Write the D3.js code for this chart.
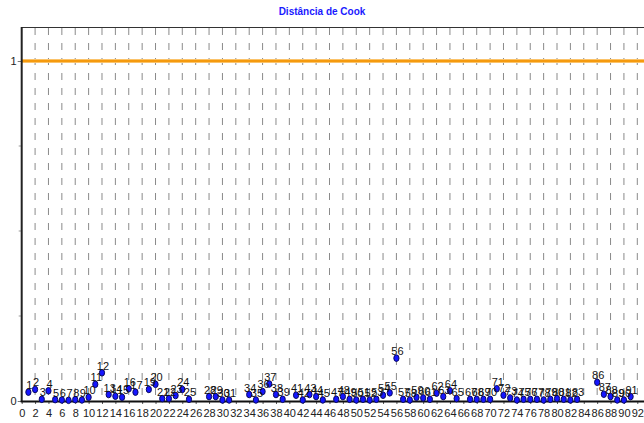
<!DOCTYPE html>
<html><head><meta charset="utf-8">
<script src="https://cdn.jsdelivr.net/npm/d3@7"></script>
<style>body{margin:0;background:#fff}svg{display:block}text{font-family:"Liberation Sans",Arial,sans-serif}</style>
</head><body>
<script>
const title = "Distância de Cook";
const obs = [1,2,3,4,5,6,7,8,9,10,11,12,13,14,15,16,17,19,20,21,22,23,24,25,28,29,30,31,34,35,36,37,38,39,41,42,43,44,45,47,48,49,50,51,52,53,54,55,56,57,58,59,60,61,62,63,64,65,67,68,69,70,71,72,73,74,75,76,77,78,79,80,81,82,83,86,87,88,89,90,91];
const cook = [0.026,0.034,0.005,0.030,0.004,0.003,0.002,0.004,0.003,0.011,0.049,0.083,0.019,0.014,0.011,0.036,0.026,0.034,0.049,0.007,0.007,0.016,0.034,0.005,0.013,0.013,0.003,0.003,0.019,0.003,0.028,0.050,0.019,0.005,0.017,0.003,0.019,0.013,0.003,0.005,0.013,0.005,0.003,0.005,0.003,0.005,0.017,0.024,0.126,0.005,0.003,0.011,0.009,0.005,0.023,0.013,0.030,0.007,0.005,0.005,0.005,0.005,0.036,0.017,0.009,0.003,0.005,0.005,0.005,0.003,0.005,0.007,0.005,0.003,0.005,0.055,0.020,0.013,0.003,0.003,0.013];
const xTicks = d3.range(0, 93, 2);
const yLabelTicks = [0, 1];
const yMinorTicks = [0.25, 0.5, 0.75];
const threshold = 1;

const W = 644, H = 423;
const svg = d3.select("body").append("svg").attr("width", W).attr("height", H);
const x = d3.scaleLinear().domain([0, 93]).range([21.7, 644]);
const y = d3.scaleLinear().domain([0, 1.1]).range([401, 27]);

svg.append("text").attr("x", 322).attr("y", 15).attr("text-anchor", "middle")
  .attr("font-size", 10).attr("font-weight", "bold").attr("fill", "#1a1aff").text(title);

// dashed vertical grid
svg.append("g").selectAll("line").data(xTicks.filter(d => d > 0)).join("line")
  .attr("x1", d => x(d)).attr("x2", d => x(d)).attr("y1", 28).attr("y2", 400)
  .attr("stroke", "#8a8a8a").attr("stroke-width", 1).attr("stroke-dasharray", "7,8");

// top border
svg.append("line").attr("x1", x(0)).attr("x2", W).attr("y1", 27.5).attr("y2", 27.5)
  .attr("stroke", "#333").attr("stroke-width", 1);

// threshold line
svg.append("line").attr("x1", x(0)).attr("x2", W).attr("y1", y(threshold)).attr("y2", y(threshold))
  .attr("stroke", "#fbc36a").attr("stroke-width", 4);
svg.append("line").attr("x1", x(0)).attr("x2", W).attr("y1", y(threshold)).attr("y2", y(threshold))
  .attr("stroke", "#f59a0e").attr("stroke-width", 2);

// y axis
const yAxis = svg.append("g").attr("transform", `translate(${x(0)},0)`)
  .call(d3.axisLeft(y).tickValues(yLabelTicks).tickSize(4).tickFormat(d3.format("d")));
yAxis.select(".domain").remove();
yAxis.selectAll("text").attr("font-size", 11).attr("fill", "#222").attr("dx", 2);
yAxis.selectAll(".tick line").attr("stroke", "#777");
svg.append("g").selectAll("line").data(yMinorTicks).join("line")
  .attr("x1", x(0) - 3).attr("x2", x(0)).attr("y1", d => y(d)).attr("y2", d => y(d)).attr("stroke", "#999");
svg.append("line").attr("x1", x(0)).attr("x2", x(0)).attr("y1", 27).attr("y2", 402)
  .attr("stroke", "#222").attr("stroke-width", 2);

// x axis
const xAxis = svg.append("g").attr("transform", `translate(0,${y(0)})`)
  .call(d3.axisBottom(x).tickValues(xTicks).tickSize(3).tickPadding(5).tickFormat(d3.format("d")));
xAxis.select(".domain").remove();
xAxis.selectAll("text").attr("font-size", 11).attr("fill", "#222");
xAxis.selectAll(".tick line").attr("stroke", "#555");
svg.append("line").attr("x1", x(0) - 1).attr("x2", W).attr("y1", y(0) + 0.5).attr("y2", y(0) + 0.5)
  .attr("stroke", "#111").attr("stroke-width", 2);

// points
const data = obs.map((o, i) => ({o, v: cook[i]}));
svg.append("g").selectAll("ellipse").data(data).join("ellipse")
  .attr("cx", d => x(d.o)).attr("cy", d => y(d.v)).attr("rx", 2.6).attr("ry", 3.3)
  .attr("fill", "#1515ff").attr("stroke", "#0a0a60").attr("stroke-width", 1);
svg.append("g").selectAll("text").data(data).join("text")
  .attr("x", d => x(d.o) + 1).attr("y", d => y(d.v) - 3).attr("text-anchor", "middle")
  .attr("font-size", 11).attr("fill", "#111").text(d => d.o);
</script>
</body></html>
